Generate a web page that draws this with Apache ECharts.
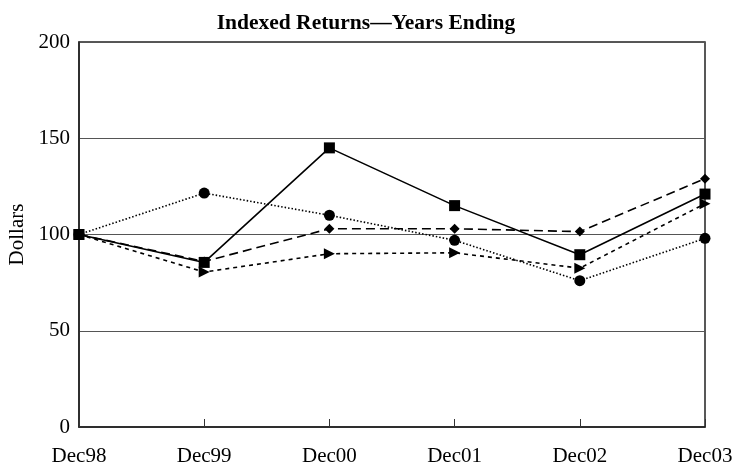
<!DOCTYPE html>
<html><head><meta charset="utf-8">
<script src="https://cdn.jsdelivr.net/npm/echarts@6/dist/echarts.min.js"></script>
<style>html,body{margin:0;padding:0;background:#fff}#c{width:732px;height:468px}</style>
</head><body><div id="c"></div>
<script>
const categories = ['Dec98','Dec99','Dec00','Dec01','Dec02','Dec03'];
const squareSeries = [100, 85.5, 145, 115, 89.5, 121];
const diamondSeries = [100, 86, 103, 103, 101.5, 129];
const triangleSeries = [100, 80.5, 90, 90.5, 82.5, 116];
const circleSeries = [100, 121.5, 110, 97, 76, 98];
const yTicks = [0, 50, 100, 150, 200];

const font = '"Liberation Serif", "DejaVu Serif", serif';
const chart = echarts.init(document.getElementById('c'));
function mk(name, data, symbol, size, lineType, rotate, z) {
  return {
    name, type: 'line', data, symbol, symbolSize: size, symbolRotate: rotate || 0,
    showSymbol: true, z: z,
    lineStyle: { color: '#000', width: 1.6, type: lineType },
    itemStyle: { color: '#000' }
  };
}
chart.setOption({
  animation: false,
  title: { text: 'Indexed Returns\u2014Years Ending', left: 'center', top: 7,
    textStyle: { fontFamily: font, fontSize: 21.5, fontWeight: 'bold', color: '#000' } },
  grid: { left: 79, right: 27, top: 42, bottom: 41, show: true, borderColor: '#222', borderWidth: 1.5,
    containLabel: false, outerBoundsMode: 'none' },
  xAxis: {
    type: 'category', data: categories, boundaryGap: false,
    axisLine: { lineStyle: { color: '#222', width: 1.5 } },
    axisTick: { inside: true, length: 8, lineStyle: { color: '#333' } },
    axisLabel: { fontFamily: font, fontSize: 21, color: '#000', margin: 19 },
    splitLine: { show: false }
  },
  yAxis: {
    type: 'value', min: yTicks[0], max: yTicks[yTicks.length-1], interval: 50,
    name: 'Dollars', nameLocation: 'middle', nameGap: 47, nameRotate: 90,
    nameTextStyle: { fontFamily: font, fontSize: 21, color: '#000' },
    axisLine: { show: true, lineStyle: { color: '#222', width: 1.5 } },
    axisTick: { show: false },
    axisLabel: { fontFamily: font, fontSize: 21, color: '#000', margin: 9 },
    splitLine: { lineStyle: { color: '#555', width: 1 } }
  },
  series: [
    mk('circle', circleSeries, 'circle', 11, [1.5, 2], 0, 2),
    mk('triangle', triangleSeries, 'triangle', 11, [4, 4], -90, 3),
    mk('diamond', diamondSeries, 'diamond', 10, [9, 5], 0, 4),
    mk('square', squareSeries, 'rect', 11, 'solid', 0, 5)
  ]
});
</script></body></html>
